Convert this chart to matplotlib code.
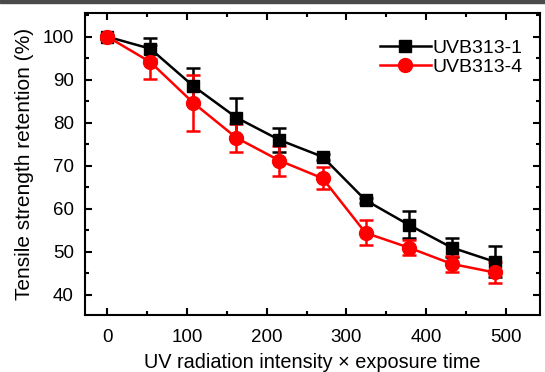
import matplotlib
matplotlib.use("Agg")
from matplotlib import pyplot as plt
from matplotlib.ticker import MultipleLocator
from matplotlib.patches import Rectangle
from matplotlib.lines import Line2D

plt.rcParams['font.family'] = ['Liberation Sans', 'DejaVu Sans']

# 数据
dose = [0, 54, 108, 162, 216, 270, 324, 378, 432, 486]
uvb1 = [100.0, 97.2, 88.5, 81.2, 76.0, 72.1, 62.0, 56.3, 51.0, 47.7]
uvb1_err = [0.5, 2.5, 4.2, 4.5, 2.8, 0.7, 0.6, 3.2, 2.2, 3.6]
uvb4 = [100.0, 94.1, 84.6, 76.5, 71.2, 67.1, 54.4, 51.0, 47.2, 45.2]
uvb4_err = [0.5, 4.0, 6.5, 3.2, 3.5, 2.6, 2.9, 1.7, 1.9, 2.4]

fig = plt.figure(figsize=(5.45, 3.72), dpi=100, facecolor='w')
# 顶部的深色条
fig.patches.append(Rectangle((0, 0.992), 1, 0.008, transform=fig.transFigure,
                             color='#4a4a4a', zorder=0))
ax = fig.add_axes([0.156, 0.153, 0.835, 0.812])

ax.errorbar(dose, uvb1, yerr=uvb1_err, color='black', marker='s', ms=9,
            lw=1.8, elinewidth=1.8, capsize=5, capthick=1.8)
ax.errorbar(dose, uvb4, yerr=uvb4_err, color='red', marker='o', ms=10,
            lw=1.8, elinewidth=1.8, capsize=5, capthick=1.8)

ax.set_xlim(-28, 543)
ax.set_ylim(35.3, 105.5)
ax.xaxis.set_major_locator(MultipleLocator(100))
ax.xaxis.set_minor_locator(MultipleLocator(50))
ax.yaxis.set_major_locator(MultipleLocator(10))
ax.yaxis.set_minor_locator(MultipleLocator(5))
ax.tick_params(which='both', direction='in', top=True, right=True,
               labelsize=13.5, width=1.5, pad=8)
ax.tick_params(axis='x', which='both', pad=10)
ax.tick_params(which='major', length=5)
ax.tick_params(which='minor', length=3)
for s in ax.spines.values():
    s.set_linewidth(1.5)

ax.set_xlabel('UV radiation intensity × exposure time', fontsize=14.3)
ax.set_ylabel('Tensile strength retention (%)', fontsize=15)
ax.xaxis.set_label_coords(0.5, -0.125)
ax.yaxis.set_label_coords(-0.112, 0.5)

# 图例不带误差线
handles = [Line2D([], [], color='black', marker='s', ms=9, lw=1.8),
           Line2D([], [], color='red', marker='o', ms=10, lw=1.8)]
fig.legend(handles, ['UVB313-1', 'UVB313-4'], loc='upper left',
           bbox_to_anchor=(380 / 545, 1 - 39 / 372), frameon=False,
           fontsize=14, handlelength=2.6, handletextpad=0.1, labelspacing=0.1,
           borderpad=0, borderaxespad=0)

fig.savefig('out.png', dpi=100, facecolor='w')
